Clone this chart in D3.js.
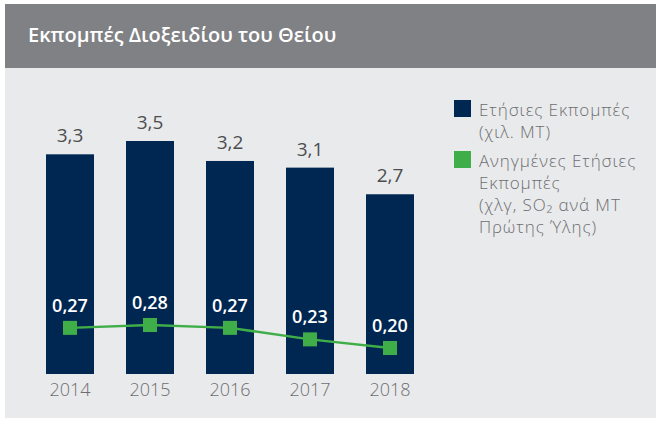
<!doctype html>
<meta charset="utf-8">
<style>
body {
  margin: 0;
  background: #fff;
  font-family: "Open Sans", sans-serif;
}
</style>
<script src="https://cdn.jsdelivr.net/npm/d3@7/dist/d3.min.js"></script>
<body>

<script>

var w = 656, h = 426;

// data
var years = ["2014", "2015", "2016", "2017", "2018"];
var emissions = [3.3, 3.5, 3.2, 3.1, 2.7];
var intensity = [0.27, 0.28, 0.27, 0.23, 0.20];
var emissionLabels = ["3,3", "3,5", "3,2", "3,1", "2,7"];
var intensityLabels = ["0,27", "0,28", "0,27", "0,23", "0,20"];

var navy = "#002752", green = "#3fae49", grey = "#4d4d4f";

var svg = d3.select("body")
  .append("svg")
    .attr("width", w)
    .attr("height", h);

// panel + header
svg.append("rect")
    .attr("x", 5).attr("y", 68)
    .attr("width", w - 5).attr("height", 350)
    .style("fill", "#e9eaec");

svg.append("rect")
    .attr("x", 5).attr("y", 4)
    .attr("width", w - 5).attr("height", 64)
    .style("fill", "#808184");

svg.append("text")
    .attr("x", 28)
    .attr("y", 42)
    .style("fill", "#fff")
    .style("font-size", "20px")
    .style("font-weight", 600)
    .text("Εκπομπές Διοξειδίου του Θείου");

// scales
var x = d3.scaleBand()
    .domain(years)
    .range([30, 430])
    .paddingInner(0.4)
    .paddingOuter(0.2);

var y = d3.scaleLinear()
    .domain([0, 3.5])
    .range([374, 141]);

var y2 = d3.scaleLinear()
    .domain([0.20, 0.28])
    .range([348, 325]);

// bars
svg.selectAll(".bar")
    .data(emissions)
  .enter().append("rect")
    .attr("class", "bar")
    .attr("x", function(d, i) { return x(years[i]); })
    .attr("y", function(d) { return y(d); })
    .attr("width", x.bandwidth())
    .attr("height", function(d) { return y(0) - y(d); })
    .style("fill", navy);

svg.selectAll(".barlabel")
    .data(emissions)
  .enter().append("text")
    .attr("class", "barlabel")
    .attr("x", function(d, i) { return x(years[i]) + x.bandwidth() / 2; })
    .attr("y", function(d) { return y(d) - 12; })
    .attr("text-anchor", "middle")
    .style("fill", grey)
    .style("font-size", "19px")
    .style("font-weight", 500)
    .text(function(d, i) { return emissionLabels[i]; });

// x axis labels
var axis = svg.append("g")
    .attr("transform", "translate(0,374)")
    .call(d3.axisBottom(x).tickSize(0).tickPadding(9));
axis.select(".domain").remove();
axis.selectAll("text")
    .style("fill", "#6d6e71")
    .style("font-family", "'Open Sans', sans-serif")
    .style("font-size", "18px")
    .style("font-weight", 300);

// line
var line = d3.line()
    .x(function(d, i) { return x(years[i]) + x.bandwidth() / 2; })
    .y(function(d) { return y2(d); });

svg.append("path")
    .datum(intensity)
    .attr("d", line)
    .style("fill", "none")
    .style("stroke", green)
    .style("stroke-width", 2.5);

svg.selectAll(".pt")
    .data(intensity)
  .enter().append("rect")
    .attr("class", "pt")
    .attr("x", function(d, i) { return x(years[i]) + x.bandwidth() / 2 - 7; })
    .attr("y", function(d) { return y2(d) - 7; })
    .attr("width", 14)
    .attr("height", 14)
    .style("fill", green);

svg.selectAll(".ptlabel")
    .data(intensity)
  .enter().append("text")
    .attr("class", "ptlabel")
    .attr("x", function(d, i) { return x(years[i]) + x.bandwidth() / 2; })
    .attr("y", function(d) { return y2(d) - 16; })
    .attr("text-anchor", "middle")
    .style("fill", "#fff")
    .style("font-size", "18px")
    .style("font-weight", 600)
    .text(function(d, i) { return intensityLabels[i]; });

// legend
var legend = [
  {color: navy, lines: ["Ετήσιες Εκπομπές", "(χιλ. ΜΤ)"], top: 100},
  {color: green, lines: ["Ανηγμένες Ετήσιες", "Εκπομπές", "(χλγ, SO₂ ανά ΜΤ", "Πρώτης Ύλης)"], top: 151}
];

var lg = svg.selectAll(".legend")
    .data(legend)
  .enter().append("g")
    .attr("class", "legend")
    .attr("transform", function(d) { return "translate(454," + d.top + ")"; });

lg.append("rect")
    .attr("width", 17)
    .attr("height", 17)
    .style("fill", function(d) { return d.color; });

lg.append("text")
    .style("fill", "#6d6e71")
    .style("font-size", "17px")
    .style("font-weight", 300)
    .style("letter-spacing", "0.9px")
  .selectAll("tspan")
    .data(function(d) { return d.lines; })
  .enter().append("tspan")
    .attr("x", 25)
    .attr("y", function(d, i) { return 16 + i * 22; })
    .text(function(d) { return d; });

</script>
